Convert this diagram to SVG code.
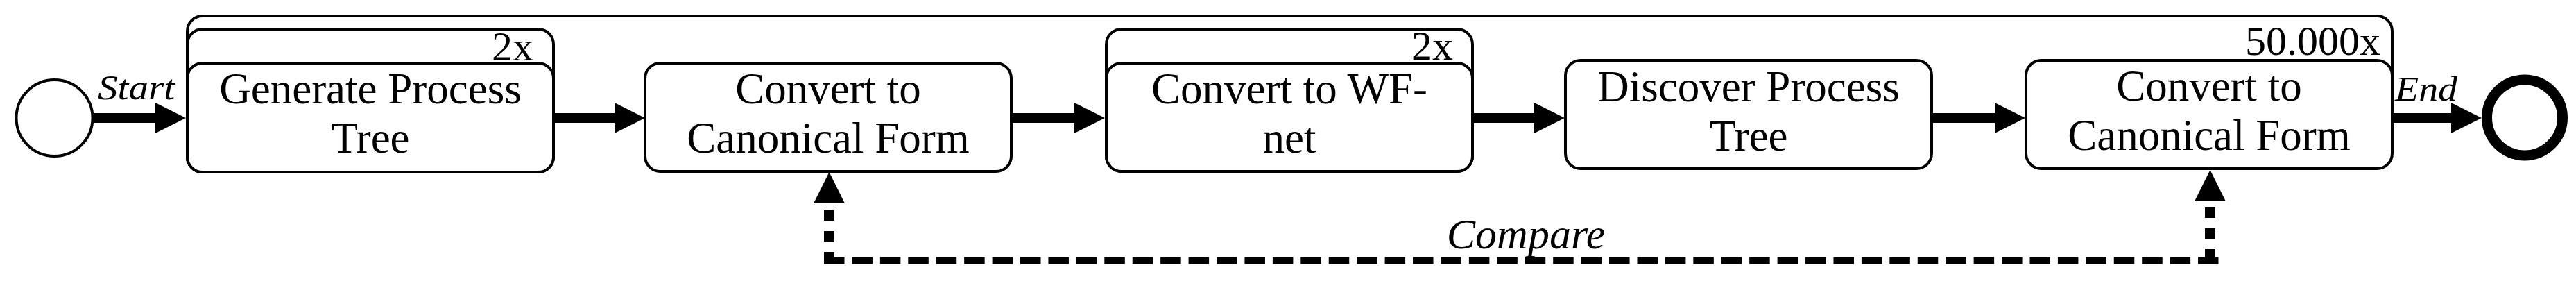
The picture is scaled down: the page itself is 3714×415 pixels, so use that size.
<svg xmlns="http://www.w3.org/2000/svg" width="3714" height="415" viewBox="0 0 3714 415">
<style>
.box{fill:#fff;stroke:#000;stroke-width:4}
.lbl{font-size:63px;fill:#000;text-anchor:middle}
.cnt{font-size:60px;fill:#000;text-anchor:end}
.it{font-style:italic;fill:#000}
.flow{stroke:#000;stroke-width:14;fill:none;marker-end:url(#ah)}
.cmpv{stroke:#000;stroke-width:15;fill:none;stroke-dasharray:15 15;marker-end:url(#ah)}
.cmph{stroke:#000;stroke-width:10;fill:none;stroke-dasharray:29.5 10.93}
</style>
<defs>
<marker id="ah" markerUnits="userSpaceOnUse" markerWidth="44" markerHeight="44" viewBox="0 0 44 44" refX="2" refY="22" orient="auto">
<path d="M0,0 L44,22 L0,44 z" fill="#000"/>
</marker>
</defs>
<rect width="3714" height="415" fill="#fff"/>
<g font-family="'Liberation Serif', 'Times New Roman', 'DejaVu Serif', serif">
<g id="loop">
<path d="M292,248 A22,22 0 0 1 270,226 V45 A22,22 0 0 1 292,23 H3427 A22,22 0 0 1 3449,45 V221" fill="none" stroke="#000" stroke-width="4"/>
<text class="cnt" x="3432" y="79">50.000x</text>
</g>

<g id="start">
<circle cx="78.5" cy="170" r="55" fill="#fff" stroke="#000" stroke-width="4"/>
</g>

<g id="n1">
<rect class="box" x="270" y="42" width="528" height="206" rx="22"/>
<text class="cnt" x="769" y="87">2x</text>
<rect class="box" x="270" y="91" width="528" height="157" rx="22"/>
<text class="lbl" x="534" y="149">Generate Process</text>
<text class="lbl" x="534" y="220">Tree</text>
</g>

<g id="n2">
<rect class="box" x="930" y="91" width="528" height="156" rx="22"/>
<text class="lbl" x="1194" y="149">Convert to</text>
<text class="lbl" x="1194" y="220">Canonical Form</text>
</g>

<g id="n3">
<rect class="box" x="1595" y="42" width="528" height="205" rx="22"/>
<text class="cnt" x="2095" y="86">2x</text>
<rect class="box" x="1595" y="91" width="528" height="156" rx="22"/>
<text class="lbl" x="1859" y="149">Convert to WF-</text>
<text class="lbl" x="1859" y="220">net</text>
</g>

<g id="n4">
<rect class="box" x="2257" y="87" width="528" height="156" rx="22"/>
<text class="lbl" x="2521" y="146">Discover Process</text>
<text class="lbl" x="2521" y="217">Tree</text>
</g>

<g id="n5">
<rect class="box" x="2921" y="87" width="528" height="156" rx="22"/>
<text class="lbl" x="3185" y="145">Convert to</text>
<text class="lbl" x="3185" y="216">Canonical Form</text>
</g>

<g id="end">
<circle cx="3640" cy="169.5" r="54.5" fill="#fff" stroke="#000" stroke-width="15"/>
</g>

<g id="connectors">
<line class="flow" x1="133" y1="170" x2="226" y2="170"/>
<text class="it" x="141" y="143" font-size="50" textLength="111" lengthAdjust="spacingAndGlyphs">Start</text>
<line class="flow" x1="798" y1="170" x2="888" y2="170"/>
<line class="flow" x1="1458" y1="170" x2="1551" y2="170"/>
<line class="flow" x1="2123" y1="170" x2="2214" y2="170"/>
<line class="flow" x1="2785" y1="170" x2="2878" y2="170"/>
<line class="flow" x1="3449" y1="170" x2="3536" y2="170"/>
<text class="it" x="3453" y="145" font-size="50" textLength="90" lengthAdjust="spacingAndGlyphs">End</text>
<path class="cmpv" d="M1195.5,378 V290"/>
<path class="cmpv" d="M3186.5,374 V287"/>
<path class="cmph" d="M1188,375.5 H3198.5"/>
<text class="it" x="2200" y="358" font-size="62" text-anchor="middle">Compare</text>
</g>
</g>
</svg>
